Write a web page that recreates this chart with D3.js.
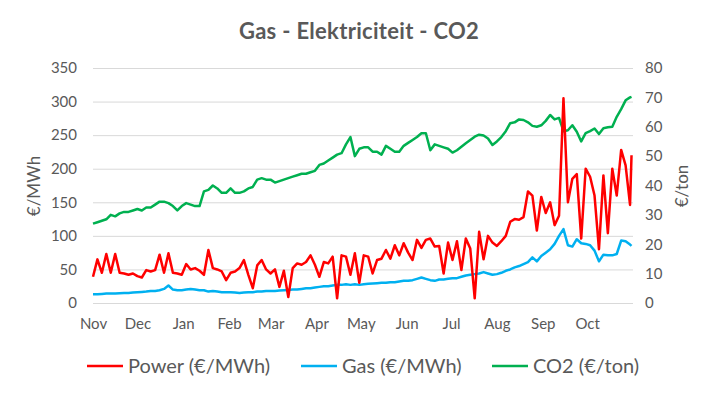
<!DOCTYPE html>
<html><head><meta charset="utf-8">
<script src="https://cdn.jsdelivr.net/npm/d3@7/dist/d3.min.js"></script>
<style>
body{margin:0;background:#fff}
svg{display:block}
text{font-family:Lato,"Open Sans",sans-serif;fill:#595959}
</style>
</head><body><svg id="c" width="717" height="395"></svg>
<script>
const chartTitle = "Gas - Elektriciteit - CO2";
const monthLabels = ["Nov","Dec","Jan","Feb","Mar","Apr","May","Jun","Jul","Aug","Sep","Oct"];
const leftTicks = [0,50,100,150,200,250,300,350];
const rightTicks = [0,10,20,30,40,50,60,70,80];
const leftTitle = "€/MWh";
const rightTitle = "€/ton";
const seriesNames = ["Power (€/MWh)","Gas (€/MWh)","CO2 (€/ton)"];
const startDate = "2020-11-01";
const stepDays = 3;

const power = [39,65,45,73,45,73,45,44,42,44,40,38,49,47,49,72,45,74,45,44,
  42,58,50,52,48,42,79,52,50,47,34,45,47,52,64,42,22,56,64,50,
  44,50,24,48,9,52,59,57,61,71,57,39,61,59,69,7,71,69,42,74,
  30,71,69,44,64,66,79,66,86,71,89,75,64,94,82,94,96,84,85,44,
  90,64,92,49,96,81,7,106,65,100,90,85,92,100,121,125,124,128,166,160,
  108,158,134,150,116,130,305,150,185,192,96,200,188,160,80,190,104,200,160,228,
  205,146,220];
const gas = [13,13,13.5,14,14,14,14.5,15,15,15.5,16,16.5,17,18,18,19,21,26,20,19,
  19,20,21,20,19,19,17,18,17,16,16,16,15.5,15,15.5,16,16,17,17,18,
  18,18,18.5,19,19.5,20,20,21,22,22,23,24,25,25,26,27,27,28,27,28,
  27,28,28.5,29,29.5,30,30,31,31,32,33,33,34,36,38,36,34,33,35,35,
  36,37,37,39,41,42,43,44,46,44,42,43,45,48,50,53,55,58,61,68,
  62,70,75,80,88,100,110,86,84,95,89,88,86,78,62,72,71,71,73,93,
  92,87,85];
const co2 = [27,27.5,28,28.5,30,29.5,30.5,31,31,31.5,32,31.5,32.5,32.5,33.5,34.5,34.5,34,33,31.5,
  33,34,33.5,33,33,38,38.5,40,39,37.5,37.5,39,37.5,37.5,38,39,39.5,42,42.5,42,
  42,41,41.5,42,42.5,43,43.5,44,44,44.5,45,47,47.5,48.5,49.5,50.5,51,54,56.5,50,
  52.5,53,53,51.5,51.5,50.5,53.5,52.5,51.5,51.5,53.5,54.5,55.5,56.5,57.8,57.8,52,54,53.5,53,
  52.5,51.2,52,53.2,54.4,55.5,56.6,57.3,57,56,53.8,55,56.5,58.5,61.2,61.5,62.5,62.3,61.5,60.3,
  60,60.5,62,64,62.5,63,58.5,58.8,60.5,58.3,55,57.8,58.5,59.4,57.5,59.5,59.8,60,63.4,66,
  69,70,70.2];

const svg = d3.select("#c");
const L = 93, R = 633, T = 68, B = 303;
const t0 = d3.timeParse("%Y-%m-%d")(startDate);
const tEnd = d3.timeYear.offset(t0, 1);
const lastDay = d3.timeDay.count(t0, tEnd) - 1;
const dateAt = i => d3.timeDay.offset(t0, Math.min(i * stepDays, lastDay));

const x = d3.scaleTime().domain([t0, tEnd]).range([L, R]);
const yL = d3.scaleLinear().domain([0, 350]).range([B, T]);
const yR = d3.scaleLinear().domain([0, 80]).range([B, T]);
const FONT = "Lato, 'Open Sans', sans-serif";

// gridlines + left axis
const gl = svg.append("g").attr("transform", `translate(${L},0)`)
  .call(d3.axisLeft(yL).tickValues(leftTicks).tickSize(-(R - L)).tickPadding(16));
gl.select(".domain").remove();
gl.selectAll(".tick line").attr("stroke", "#d9d9d9").attr("stroke-width", 1);
gl.selectAll(".tick text").attr("fill", "#595959").style("font-size", "15px").style("font-family", FONT);

// right axis
const gr = svg.append("g").attr("transform", `translate(${R},0)`)
  .call(d3.axisRight(yR).tickValues(rightTicks).tickSize(0).tickPadding(12));
gr.select(".domain").remove();
gr.selectAll(".tick text").attr("fill", "#595959").style("font-size", "15px").style("font-family", FONT);

// x axis month labels
const monthDates = monthLabels.map((m, i) => d3.timeMonth.offset(t0, i));
const gx = svg.append("g").attr("transform", `translate(0,${B})`)
  .call(d3.axisBottom(x).tickValues(monthDates).tickSize(0).tickPadding(15)
    .tickFormat((d, i) => monthLabels[i]));
gx.select(".domain").remove();
gx.selectAll(".tick text").attr("fill", "#595959").style("font-size", "15px").style("font-family", FONT);

// lines
const mk = (arr, ys) => d3.line().x((d, i) => x(dateAt(i))).y(d => ys(d))(arr);
const lines = [
  {data: gas, scale: yL, color: "#00b0f0"},
  {data: co2, scale: yR, color: "#00b050"},
  {data: power, scale: yL, color: "#ff0000"}
];
lines.forEach(s => {
  svg.append("path").attr("d", mk(s.data, s.scale)).attr("fill", "none")
    .attr("stroke", s.color).attr("stroke-width", 2.5).attr("stroke-linejoin", "round");
});

// title
svg.append("text").attr("x", 359).attr("y", 39).attr("text-anchor", "middle")
  .style("font-size", "22px").style("font-weight", "bold").style("letter-spacing", "0.3px").text(chartTitle);

// axis titles
svg.append("text").attr("transform", "translate(40,186) rotate(-90)").attr("text-anchor", "middle")
  .style("font-size", "17px").text(leftTitle);
svg.append("text").attr("transform", "translate(688,186) rotate(-90)").attr("text-anchor", "middle")
  .style("font-size", "17px").text(rightTitle);

// legend
const legendColors = ["#ff0000", "#00b0f0", "#00b050"];
const legendX = [87, 301, 492];
seriesNames.forEach((n, i) => {
  const g = svg.append("g").attr("transform", `translate(${legendX[i]},366)`);
  g.append("line").attr("x1", 0).attr("x2", 36).attr("y1", 0).attr("y2", 0)
    .attr("stroke", legendColors[i]).attr("stroke-width", 2.5);
  g.append("text").attr("x", 41).attr("y", 0).attr("dy", "0.35em")
    .style("font-size", "20px").text(n);
});
</script>
</body></html>
